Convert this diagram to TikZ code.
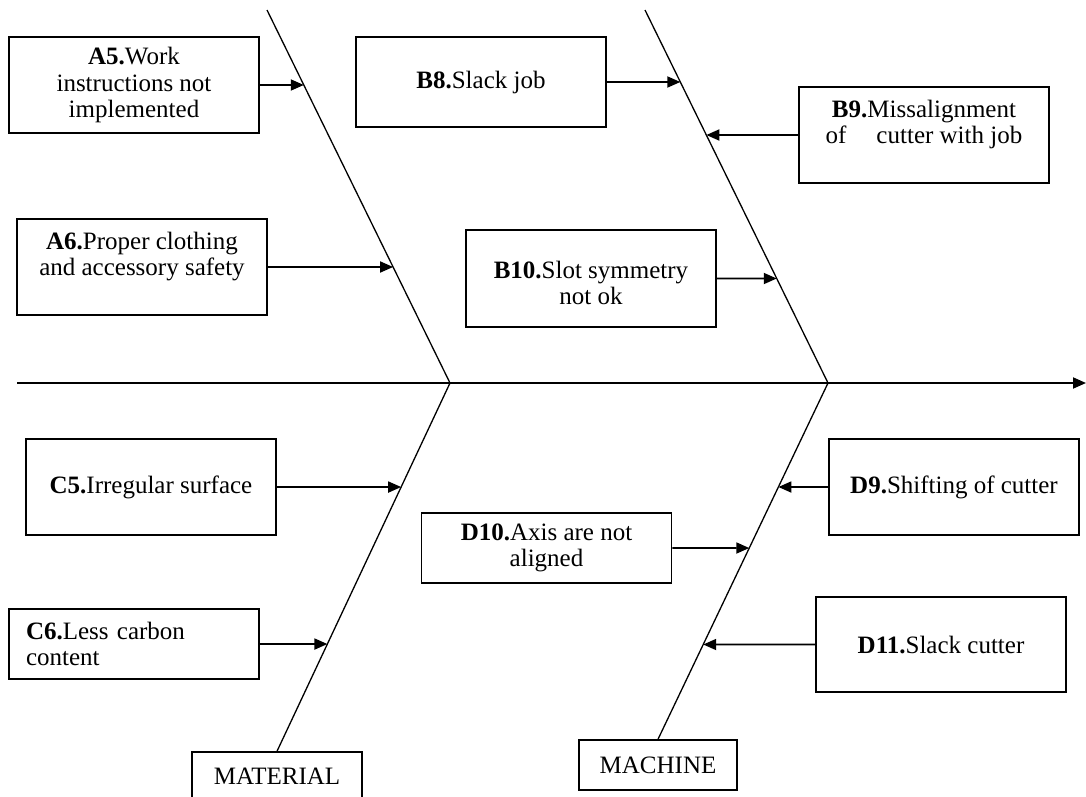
\documentclass[tikz,border=0pt]{standalone}
\usepackage{fontspec}
\setmainfont{Liberation Serif}
\usetikzlibrary{arrows.meta}
\begin{document}
\begin{tikzpicture}[x=1pt,y=-1pt,
  cause/.style={draw, line width=1.5pt, minimum width=250pt, inner sep=0pt,
    align=center, font=\fontsize{25}{26.3}\selectfont},
  category/.style={draw, line width=1.5pt, inner sep=0pt,
    font=\fontsize{25}{26.3}\selectfont},
  bone/.style={line width=1.3pt},
  spine/.style={line width=1.9pt, -{Triangle[length=13pt,width=11pt]}},
  feed/.style={line width=1.8pt, -{Triangle[length=13pt,width=11pt]}},
]
\useasboundingbox (0,0) rectangle (1086,797);

% main spine
\coordinate (sS) at (17,383);
\coordinate (sE) at (1086,383);
\draw[spine] (sS) -- (sE);

% bone joints on the spine and free upper ends
\coordinate (ULtop) at (267,10);
\coordinate (URtop) at (645,10);
\coordinate (J1) at (450,383);
\coordinate (J2) at (828,383);

% category boxes
\node[category, minimum width=170pt, minimum height=48pt] (MAT) at (277,776) {MATERIAL};
\node[category, minimum width=158pt, minimum height=50pt] (MAC) at (658,765) {MACHINE};

% bones
\draw[bone] (ULtop) -- (J1) -- (MAT.north);
\draw[bone] (URtop) -- (J2) -- (MAC.north);

% cause boxes
\node[cause, minimum height=96pt] (A5) at (134,85)
  {\textbf{A5.}Work\\instructions not\\implemented};
\node[cause, minimum height=96pt] (A6) at (142,267)
  {\textbf{A6.}Proper clothing\\and accessory safety\\\mbox{}};
\node[cause, minimum height=90pt] (B8) at (481,82)
  {\textbf{B8.}Slack job};
\node[cause, minimum height=96pt] (B9) at (924,135)
  {\textbf{B9.}Missalignment\\of\hspace{1.2em}cutter with job\\\mbox{}};
\node[cause, minimum height=97pt] (B10) at (591,278.5)
  {\mbox{}\\\textbf{B10.}Slot symmetry\\not ok};
\node[cause, minimum height=96pt] (C5) at (151,487)
  {\textbf{C5.}Irregular surface};
\node[cause, minimum height=70pt, align=left, text width=216pt, inner xsep=17pt] (C6) at (134,644)
  {\textbf{C6.}Less carbon\\content};
\node[cause, minimum height=70pt] (D10) at (546.5,548)
  {\textbf{D10.}Axis are not\\aligned};
\node[cause, minimum height=96pt] (D9) at (954,487)
  {\textbf{D9.}Shifting of cutter};
\node[cause, minimum height=95pt] (D11) at (941,644.5)
  {\textbf{D11.}Slack cutter};

% arrows from causes onto the bones
\draw[feed] (A5.east)  -- (intersection of A5.east--A5.west and ULtop--J1);
\draw[feed] (A6.east)  -- (intersection of A6.east--A6.west and ULtop--J1);
\draw[feed] (B8.east)  -- (intersection of B8.east--B8.west and URtop--J2);
\draw[feed] (B10.east) -- (intersection of B10.east--B10.west and URtop--J2);
\draw[feed] (B9.west)  -- (intersection of B9.east--B9.west and URtop--J2);
\draw[feed] (C5.east)  -- (intersection of C5.east--C5.west and J1--MAT.north);
\draw[feed] (C6.east)  -- (intersection of C6.east--C6.west and J1--MAT.north);
\draw[feed] (D10.east) -- (intersection of D10.east--D10.west and J2--MAC.north);
\draw[feed] (D9.west)  -- (intersection of D9.east--D9.west and J2--MAC.north);
\draw[feed] (D11.west) -- (intersection of D11.east--D11.west and J2--MAC.north);
\end{tikzpicture}
\end{document}
